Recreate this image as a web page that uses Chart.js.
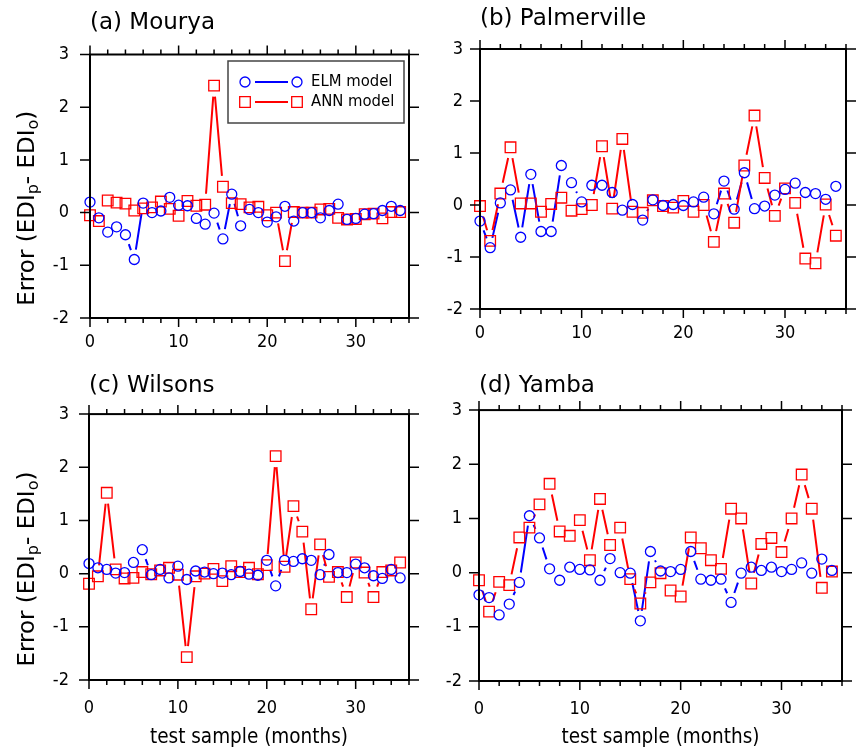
<!DOCTYPE html>
<html>
<head>
<meta charset="utf-8">
<script src="https://cdn.jsdelivr.net/npm/chart.js@4.4.1/dist/chart.umd.min.js"></script>
<style>
  html, body { margin: 0; padding: 0; background: #fff; }
  #wrap { position: relative; width: 860px; height: 752px; overflow: hidden; }
  canvas { position: absolute; }
</style>
</head>
<body>
<div id="wrap">
  <canvas id="chartA" width="430" height="360" style="left:0;top:0"></canvas>
  <canvas id="chartB" width="430" height="360" style="left:430px;top:0"></canvas>
  <canvas id="chartC" width="430" height="392" style="left:0;top:360px"></canvas>
  <canvas id="chartD" width="430" height="392" style="left:430px;top:360px"></canvas>
</div>
<script>
// test sample index (months)
const samples = [0, 1, 2, 3, 4, 5, 6, 7, 8, 9, 10, 11, 12, 13, 14, 15, 16, 17,
  18, 19, 20, 21, 22, 23, 24, 25, 26, 27, 28, 29, 30, 31, 32, 33, 34, 35];
const xTickLabels = [0, 10, 20, 30];
const yTickLabels = [-2, -1, 0, 1, 2, 3];

// Error (EDIp - EDIo) per station
const mouryaELM = [0.20, -0.10, -0.37, -0.27, -0.42, -0.89, 0.18, 0.00, 0.03, 0.29, 0.14, 0.13,
  -0.11, -0.22, -0.01, -0.50, 0.35, -0.25, 0.06, 0.00, -0.18, -0.08, 0.12, -0.16,
  0.00, 0.00, -0.10, 0.04, 0.16, -0.13, -0.11, -0.03, -0.02, 0.04, 0.12, 0.04];
const mouryaANN = [-0.05, -0.16, 0.23, 0.19, 0.17, 0.04, 0.08, 0.10, 0.21, 0.07, -0.06, 0.22,
  0.13, 0.15, 2.41, 0.49, 0.18, 0.16, 0.10, 0.11, -0.05, 0.00, -0.92, 0.01,
  0.00, 0.00, 0.06, 0.07, -0.10, -0.13, -0.12, -0.03, -0.02, -0.11, 0.01, 0.01];

const palmervilleELM = [-0.31, -0.82, 0.04, 0.29, -0.62, 0.59, -0.51, -0.51, 0.76, 0.43, 0.06, 0.38,
  0.38, 0.24, -0.10, 0.01, -0.29, 0.10, -0.01, 0.01, -0.01, 0.06, 0.15, -0.17,
  0.46, -0.08, 0.62, -0.07, -0.02, 0.19, 0.30, 0.42, 0.24, 0.22, 0.11, 0.36];
const palmervilleANN = [-0.02, -0.69, 0.22, 1.11, 0.03, 0.03, -0.13, 0.02, 0.14, -0.11, -0.08, 0.00,
  1.13, -0.07, 1.27, -0.13, -0.15, 0.09, -0.02, -0.05, 0.08, -0.13, 0.00, -0.71,
  0.22, -0.34, 0.76, 1.72, 0.52, -0.21, 0.32, 0.04, -1.03, -1.12, 0.01, -0.59];

const wilsonsELM = [0.19, 0.11, 0.08, 0.01, 0.02, 0.21, 0.45, -0.02, 0.08, -0.08, 0.14, -0.11,
  0.05, 0.03, 0.00, 0.01, -0.02, 0.04, -0.01, -0.03, 0.25, -0.23, 0.25, 0.23,
  0.28, 0.25, -0.02, 0.36, 0.02, 0.02, 0.18, 0.11, -0.04, -0.09, 0.08, -0.08];
const wilsonsANN = [-0.19, -0.05, 1.52, 0.08, -0.09, -0.08, 0.03, -0.01, 0.06, 0.11, -0.02, -1.57,
  -0.05, 0.00, 0.09, -0.14, 0.14, 0.03, 0.11, -0.01, 0.16, 2.21, 0.13, 1.27,
  0.79, -0.67, 0.55, -0.06, 0.03, -0.44, 0.21, 0.02, -0.44, 0.03, 0.06, 0.21];

const yambaELM = [-0.41, -0.46, -0.78, -0.58, -0.18, 1.05, 0.64, 0.07, -0.14, 0.10, 0.06, 0.05,
  -0.14, 0.26, 0.00, -0.01, -0.89, 0.39, 0.03, 0.02, 0.06, 0.39, -0.12, -0.14,
  -0.12, -0.55, -0.01, 0.10, 0.04, 0.10, 0.02, 0.06, 0.18, -0.01, 0.25, 0.04];
const yambaANN = [-0.14, -0.72, -0.17, -0.23, 0.65, 0.83, 1.26, 1.64, 0.76, 0.68, 0.97, 0.23,
  1.36, 0.51, 0.83, -0.12, -0.57, -0.18, -0.01, -0.33, -0.44, 0.65, 0.45, 0.23,
  0.07, 1.18, 1.00, -0.20, 0.53, 0.64, 0.38, 1.00, 1.81, 1.18, -0.28, 0.02];

const FONT = "'DejaVu Sans Condensed', 'DejaVu Sans', sans-serif";
const WIDE = "'DejaVu Sans', sans-serif";
const BLUE = '#0000ff';
const RED = '#ff0000';

Chart.defaults.font.family = FONT;
Chart.defaults.color = '#000';

// lines between points that stop short of the markers
const gapLines = {
  id: 'gapLines',
  beforeDatasetsDraw(chart) {
    const ctx = chart.ctx;
    chart.data.datasets.forEach((ds, i) => {
      const pts = chart.getDatasetMeta(i).data;
      const g = ds.gap;
      ctx.save();
      ctx.strokeStyle = ds.borderColor;
      ctx.lineWidth = 2;
      ctx.beginPath();
      for (let k = 1; k < pts.length; k++) {
        const p = pts[k - 1], q = pts[k];
        const dx = q.x - p.x, dy = q.y - p.y;
        const d = Math.hypot(dx, dy);
        if (d <= 2 * g + 1) continue;
        const ux = dx / d, uy = dy / d;
        ctx.moveTo(p.x + ux * g, p.y + uy * g);
        ctx.lineTo(q.x - ux * g, q.y - uy * g);
      }
      ctx.stroke();
      ctx.restore();
    });
  }
};

// box around the plot and tick marks on all four sides
const frameTicks = {
  id: 'frameTicks',
  afterDraw(chart) {
    const { ctx, chartArea: a, scales: { x, y } } = chart;
    ctx.save();
    ctx.strokeStyle = '#000';
    ctx.lineWidth = 1.5;
    ctx.beginPath();
    for (let v = 0; v <= 36; v += 2) {
      const px = x.getPixelForValue(v);
      const len = xTickLabels.includes(v) ? 9 : 5;
      ctx.moveTo(px, a.bottom); ctx.lineTo(px, a.bottom + len);
      ctx.moveTo(px, a.top); ctx.lineTo(px, a.top - len);
    }
    yTickLabels.forEach(v => {
      const py = y.getPixelForValue(v);
      ctx.moveTo(a.left, py); ctx.lineTo(a.left - 10, py);
      ctx.moveTo(a.right, py); ctx.lineTo(a.right + 10, py);
    });
    ctx.stroke();
    ctx.lineWidth = 2;
    ctx.strokeRect(a.left, a.top, a.right - a.left, a.bottom - a.top);
    ctx.restore();
  }
};

// rotated y title with subscripts
const yTitle = {
  id: 'yTitle',
  afterDraw(chart) {
    const { ctx, chartArea: a } = chart;
    const parts = [
      ['Error (EDI', 0], ['p', 1], ['- EDI', 0], ['o', 1], [')', 0]
    ];
    const big = '23px ' + WIDE, small = '16px ' + WIDE;
    ctx.save();
    let total = 0;
    parts.forEach(([t, s]) => { ctx.font = s ? small : big; total += ctx.measureText(t).width; });
    ctx.translate(26, (a.top + a.bottom) / 2 + 22);
    ctx.rotate(-Math.PI / 2);
    ctx.fillStyle = '#000';
    ctx.textBaseline = 'alphabetic';
    let cx = -total / 2;
    parts.forEach(([t, s]) => {
      ctx.font = s ? small : big;
      ctx.fillText(t, cx, s ? 12 : 8);
      cx += ctx.measureText(t).width;
    });
    ctx.restore();
  }
};

// legend: marker - line - marker
const modelKey = {
  id: 'modelKey',
  afterDraw(chart) {
    const { ctx, chartArea: a } = chart;
    const bx = a.right - 181, by = a.top + 6.5;
    ctx.save();
    ctx.strokeStyle = '#444';
    ctx.lineWidth = 1.5;
    ctx.strokeRect(bx, by, 176, 62);
    const rows = [
      { label: 'ELM model', color: BLUE, circle: true, y: by + 21 },
      { label: 'ANN model', color: RED, circle: false, y: by + 41 }
    ];
    rows.forEach(r => {
      ctx.strokeStyle = r.color;
      ctx.lineWidth = 2;
      ctx.beginPath();
      ctx.moveTo(bx + 27, r.y); ctx.lineTo(bx + 60, r.y);
      ctx.stroke();
      ctx.lineWidth = 1.3;
      [bx + 17, bx + 69].forEach(mx => {
        ctx.beginPath();
        if (r.circle) ctx.arc(mx, r.y, 5, 0, Math.PI * 2);
        else ctx.rect(mx - 5.3, r.y - 5.3, 10.6, 10.6);
        ctx.stroke();
      });
      ctx.fillStyle = '#000';
      ctx.font = '16.5px ' + FONT;
      ctx.textBaseline = 'middle';
      ctx.fillText(r.label, bx + 83, r.y);
    });
    ctx.restore();
  }
};

function toPoints(values) {
  return samples.map((s, i) => ({ x: s, y: values[i] }));
}

function makePanel(id, opt) {
  const plugins = [gapLines, frameTicks];
  if (opt.yTitle) plugins.push(yTitle);
  if (opt.key) plugins.push(modelKey);
  return new Chart(document.getElementById(id), {
    type: 'scatter',
    data: {
      datasets: [
        {
          label: 'ELM model',
          data: toPoints(opt.elm),
          pointStyle: 'circle',
          pointRadius: 5,
          borderColor: BLUE,
          backgroundColor: 'rgba(0,0,0,0)',
          borderWidth: 1.3,
          showLine: false,
          clip: false,
          gap: 10
        },
        {
          label: 'ANN model',
          data: toPoints(opt.ann),
          pointStyle: 'rect',
          pointRadius: 7.5,
          borderColor: RED,
          backgroundColor: 'rgba(0,0,0,0)',
          borderWidth: 1.3,
          showLine: false,
          clip: false,
          gap: 11
        }
      ]
    },
    options: {
      responsive: false,
      animation: false,
      events: [],
      layout: { padding: { left: 0, right: opt.padRight, top: 0, bottom: 0 } },
      plugins: {
        legend: { display: false },
        tooltip: { enabled: false },
        title: {
          display: true,
          text: opt.title,
          align: 'start',
          fullSize: false,
          color: '#000',
          font: { family: WIDE, size: 23, weight: 'normal' },
          padding: { top: opt.titleTop, bottom: opt.titleBottom }
        }
      },
      scales: {
        x: {
          type: 'linear',
          min: 0,
          max: 36,
          grid: { display: false, drawTicks: false },
          border: { display: false },
          ticks: {
            stepSize: 2,
            autoSkip: false,
            maxRotation: 0,
            padding: opt.xPad,
            font: { size: 18 },
            callback: v => xTickLabels.includes(v) ? String(v) : ''
          },
          title: {
            display: !!opt.xTitle,
            text: 'test sample (months)',
            font: { size: 20.5 },
            padding: { top: 0, bottom: 2 }
          },
          afterFit: s => { s.height = opt.xHeight; }
        },
        y: {
          min: -2,
          max: 3,
          grid: { display: false, drawTicks: false },
          border: { display: false },
          ticks: {
            stepSize: 1,
            padding: opt.yPad,
            font: { size: 18 },
            callback: v => yTickLabels.includes(v) ? String(v) : ''
          },
          afterFit: s => { s.width = opt.yWidth; }
        }
      }
    },
    plugins: plugins
  });
}

makePanel('chartA', {
  title: '(a) Mourya', elm: mouryaELM, ann: mouryaANN,
  yTitle: true, key: true, xTitle: false,
  yWidth: 90, xHeight: 42, padRight: 21, yPad: 21, xPad: 14,
  titleTop: 9, titleBottom: 17.9
});
makePanel('chartB', {
  title: '(b) Palmerville', elm: palmervilleELM, ann: palmervilleANN,
  yTitle: false, key: false, xTitle: false,
  yWidth: 50, xHeight: 51, padRight: 13, yPad: 17, xPad: 14,
  titleTop: 5.5, titleBottom: 15.9
});
makePanel('chartC', {
  title: '(c) Wilsons', elm: wilsonsELM, ann: wilsonsANN,
  yTitle: true, key: false, xTitle: true,
  yWidth: 89, xHeight: 72, padRight: 21, yPad: 20, xPad: 18,
  titleTop: 12, titleBottom: 14.5
});
makePanel('chartD', {
  title: '(d) Yamba', elm: yambaELM, ann: yambaANN,
  yTitle: false, key: false, xTitle: true,
  yWidth: 49, xHeight: 71, padRight: 13, yPad: 17, xPad: 18,
  titleTop: 12, titleBottom: 10.5
});
</script>
</body>
</html>
